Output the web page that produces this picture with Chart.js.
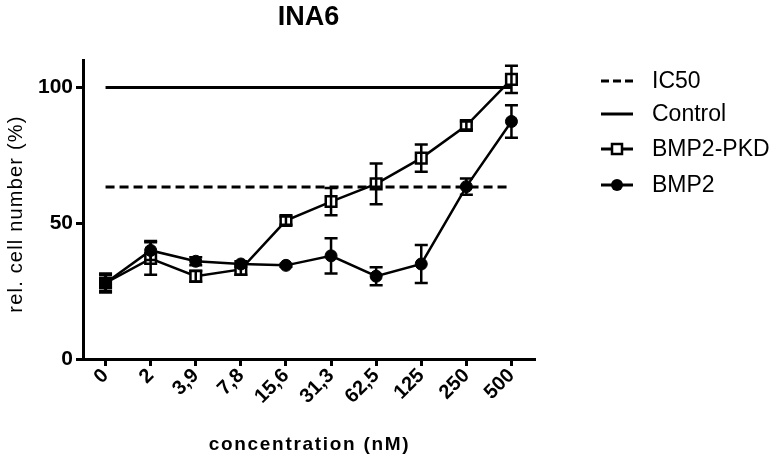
<!DOCTYPE html>
<html>
<head>
<meta charset="utf-8">
<script src="https://cdn.jsdelivr.net/npm/chart.js@4"></script>
<style>
  html, body { margin: 0; padding: 0; background: #fff; }
  #wrap { width: 778px; height: 458px; position: relative; }
</style>
</head>
<body>
<div id="wrap"><canvas id="chart"></canvas></div>
<script>
// concentrations (nM)
const categories = ['0', '2', '3,9', '7,8', '15,6', '31,3', '62,5', '125', '250', '500'];
const pkdValues = [28, 37, 30.5, 33, 51, 58, 64.5, 74, 86, 103];
const pkdErr = [3.5, 6, 2, 2, 1.5, 5, 7.5, 5, 1.5, 5];
const bmp2Values = [28, 40, 36, 35, 34.5, 38, 30.5, 35, 63.5, 87.5];
const bmp2Err = [3, 3.5, 1.5, 1, 0.5, 6.5, 3.3, 7, 3, 6];
const ic50Value = 63.4;
const controlValue = 100;
const yTicks = [0, 50, 100];

const FONT = "'Liberation Sans', Arial, sans-serif";

// error bars drawn from the data arrays through the y scale
const errorBars = {
    id: 'errorBars',
    afterDatasetsDraw(chart) {
        const ctx = chart.ctx;
        const y = chart.scales.y;
        chart.data.datasets.forEach((ds, i) => {
            if (!ds.errors) return;
            const meta = chart.getDatasetMeta(i);
            ctx.save();
            ctx.strokeStyle = '#000';
            ctx.lineWidth = 2.5;
            meta.data.forEach((pt, j) => {
                const v = ds.data[j], e = ds.errors[j];
                const top = y.getPixelForValue(v + e), bot = y.getPixelForValue(v - e);
                ctx.beginPath();
                ctx.moveTo(pt.x, top); ctx.lineTo(pt.x, bot);
                ctx.moveTo(pt.x - 6.5, top); ctx.lineTo(pt.x + 6.5, top);
                ctx.moveTo(pt.x - 6.5, bot); ctx.lineTo(pt.x + 6.5, bot);
                ctx.stroke();
            });
            ctx.restore();
        });
    }
};

// axis titles (spaced letters) and the legend on the right
const extras = {
    id: 'extras',
    afterDraw(chart) {
        const ctx = chart.ctx;
        const area = chart.chartArea;
        ctx.save();
        ctx.fillStyle = '#000';
        ctx.textAlign = 'center';
        ctx.textBaseline = 'middle';

        ctx.letterSpacing = '1.7px';
        ctx.font = 'bold 19px ' + FONT;
        ctx.fillText('concentration (nM)', (area.left + area.right) / 2 + 1, 445);

        ctx.letterSpacing = '1.2px';
        ctx.font = '20px ' + FONT;
        ctx.translate(16, 214);
        ctx.rotate(-Math.PI / 2);
        ctx.fillText('rel. cell number (%)', 0, 0);
        ctx.setTransform(1, 0, 0, 1, 0, 0);
        ctx.letterSpacing = '0px';

        const x0 = 601, x1 = 633, tx = 652;
        const rows = [81, 114, 149, 185];
        const names = ['IC50', 'Control', 'BMP2-PKD', 'BMP2'];
        ctx.strokeStyle = '#000';
        ctx.lineWidth = 3;
        ctx.textAlign = 'left';
        rows.forEach((ry, i) => {
            ctx.beginPath();
            ctx.setLineDash(i === 0 ? [8, 4] : []);
            ctx.moveTo(x0, ry); ctx.lineTo(x1, ry);
            ctx.stroke();
            ctx.setLineDash([]);
            const cx = (x0 + x1) / 2;
            if (i === 2) {
                ctx.fillStyle = '#fff';
                ctx.fillRect(cx - 5, ry - 5, 10, 10);
                ctx.lineWidth = 2.5;
                ctx.strokeRect(cx - 5, ry - 5, 10, 10);
                ctx.lineWidth = 3;
                ctx.fillStyle = '#000';
            } else if (i === 3) {
                ctx.beginPath();
                ctx.arc(cx, ry, 6, 0, Math.PI * 2);
                ctx.fill();
            }
            ctx.font = '23px ' + FONT;
            ctx.fillText(names[i], tx, ry + 1);
        });
        ctx.restore();
    }
};

new Chart(document.getElementById('chart'), {
    type: 'line',
    data: {
        labels: categories,
        datasets: [
            {
                label: 'IC50',
                data: categories.map(() => ic50Value),
                borderColor: '#000',
                borderWidth: 3,
                borderDash: [9, 5],
                pointRadius: 0
            },
            {
                label: 'Control',
                data: categories.map(() => controlValue),
                borderColor: '#000',
                borderWidth: 3,
                pointRadius: 0
            },
            {
                label: 'BMP2',
                data: bmp2Values,
                errors: bmp2Err,
                borderColor: '#000',
                borderWidth: 2.5,
                pointStyle: 'circle',
                pointRadius: 6,
                pointBackgroundColor: '#000',
                pointBorderColor: '#000',
                pointBorderWidth: 1
            },
            {
                label: 'BMP2-PKD',
                data: pkdValues,
                errors: pkdErr,
                borderColor: '#000',
                borderWidth: 2.5,
                pointStyle: 'rect',
                pointRadius: 7.5,
                pointBackgroundColor: '#fff',
                pointBorderColor: '#000',
                pointBorderWidth: 2.5
            }
        ]
    },
    options: {
        responsive: true,
        maintainAspectRatio: false,
        animation: false,
        layout: { padding: { left: 0, right: 244, top: 0, bottom: 0 } },
        plugins: {
            legend: { display: false },
            tooltip: { enabled: false },
            title: {
                display: true,
                text: 'INA6',
                fullSize: false,
                color: '#000',
                font: { family: FONT, size: 27, weight: 'bold' },
                padding: { top: 1, bottom: 27 }
            }
        },
        scales: {
            x: {
                offset: true,
                grid: { display: true, drawOnChartArea: false, color: '#000', lineWidth: 3, tickLength: 7 },
                border: { color: '#000', width: 3 },
                ticks: {
                    color: '#000', maxRotation: 45, minRotation: 45, autoSkip: false, padding: -2,
                    font: { family: FONT, size: 20, weight: 'bold' }
                },
                afterFit: s => { s.height = 99; }
            },
            y: {
                min: 0,
                max: 110,
                grid: { display: true, drawOnChartArea: false, color: '#000', lineWidth: 3, tickLength: 7 },
                border: { color: '#000', width: 3 },
                afterBuildTicks: s => { s.ticks = yTicks.map(v => ({ value: v })); },
                ticks: {
                    color: '#000', padding: 3,
                    font: { family: FONT, size: 21, weight: 'bold' }
                },
                afterFit: s => { s.width = 83; }
            }
        }
    },
    plugins: [errorBars, extras]
});
</script>
</body>
</html>
